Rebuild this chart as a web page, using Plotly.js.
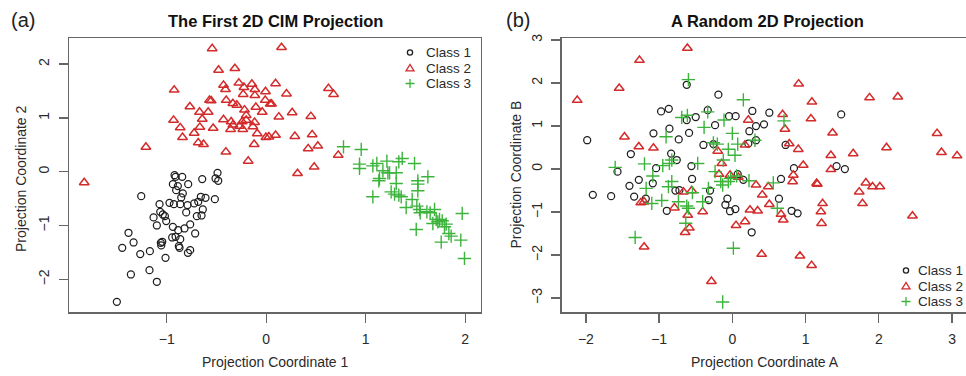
<!DOCTYPE html>
<html>
<head>
<meta charset="utf-8">
<script src="https://cdn.plot.ly/plotly-3.0.1.min.js"></script>
<style>html,body{margin:0;padding:0;background:#fff;}#chart{width:966px;height:376px;}</style>
</head>
<body>
<div id="chart"></div>
<script>
// ---------- Data: panel (a) The First 2D CIM Projection ----------
const cimClass1X = [-0.921,-0.911,-0.844,-0.489,-0.509,-0.482,-0.643,-0.938,-0.888,-0.905,-0.784,-0.838,-0.854,-1.256,-1.072,-0.972,-0.928,-0.864,-0.791,-0.724,-0.683,-0.657,-0.610,-0.516,-0.637,-1.065,-1.039,-1.018,-1.132,-1.005,-0.804,-0.697,-0.650,-1.099,-0.938,-0.884,-0.821,-0.764,-1.384,-1.333,-1.447,-1.266,-1.169,-1.059,-1.045,-1.055,-0.945,-0.911,-0.864,-0.878,-0.871,-0.787,-0.764,-1.012,-1.173,-1.360,-1.099,-1.501,-0.714];
const cimClass1Y = [-0.062,-0.093,-0.093,-0.019,-0.124,-0.167,-0.136,-0.229,-0.266,-0.341,-0.229,-0.402,-0.477,-0.452,-0.601,-0.576,-0.601,-0.601,-0.619,-0.588,-0.557,-0.464,-0.483,-0.508,-0.700,-0.743,-0.793,-0.824,-0.848,-0.916,-0.755,-0.824,-0.811,-0.997,-1.022,-1.084,-1.053,-0.978,-1.133,-1.313,-1.412,-1.529,-1.474,-1.319,-1.300,-1.368,-1.220,-1.207,-1.251,-1.381,-1.412,-1.505,-1.455,-1.598,-1.827,-1.907,-2.043,-2.415,-1.146];

const cimClass2X = [-0.543,0.154,-0.479,-0.315,-0.925,-0.429,-0.409,-0.275,-0.144,-0.224,-0.114,-0.007,0.094,0.204,0.626,0.677,-0.231,-0.114,-0.570,-0.553,-0.402,-0.335,-0.295,-0.010,0.040,0.054,-0.767,-0.670,-0.583,-0.218,-0.104,-0.201,-0.040,0.261,0.127,0.449,-0.931,-0.643,-0.429,-0.352,-0.201,-0.117,-0.864,-0.667,-0.533,-0.335,-0.268,-0.134,-0.358,-0.235,-0.724,-0.841,-0.090,-0.003,0.027,0.094,0.288,0.462,-0.683,-0.630,-0.121,-1.209,0.422,0.519,-0.405,-0.181,0.724,0.482,0.315,-1.829,-0.241];
const cimClass2Y = [2.29,2.31,1.89,1.92,1.52,1.61,1.53,1.65,1.63,1.57,1.53,1.49,1.64,1.45,1.55,1.44,1.44,1.42,1.33,1.32,1.33,1.27,1.24,1.33,1.26,1.26,1.21,1.11,1.11,1.15,1.20,1.05,1.11,1.10,1.02,1.03,0.96,0.98,0.97,0.93,0.96,0.92,0.82,0.83,0.81,0.87,0.85,0.84,0.79,0.79,0.72,0.64,0.71,0.64,0.65,0.68,0.66,0.69,0.54,0.51,0.51,0.46,0.43,0.48,0.37,0.20,0.31,0.09,-0.03,-0.20,0.93];

const cimClass3X = [0.777,0.955,0.938,0.938,1.072,1.112,1.213,1.333,1.367,1.491,1.173,1.223,1.307,1.139,1.132,1.625,1.524,1.524,1.307,1.524,1.256,1.290,1.333,1.357,1.072,1.467,1.407,1.514,1.541,1.548,1.615,1.648,1.692,1.709,1.742,1.769,1.725,1.675,1.792,1.836,1.859,1.970,1.508,1.759,1.956,1.993,1.240,1.809];
const cimClass3Y = [0.464,0.415,0.142,0.062,0.111,0.155,0.198,0.186,0.248,0.155,0.019,-0.019,-0.019,-0.124,-0.167,-0.093,-0.167,-0.229,-0.217,-0.353,-0.372,-0.415,-0.433,-0.464,-0.464,-0.514,-0.663,-0.638,-0.700,-0.762,-0.743,-0.762,-0.700,-0.885,-0.885,-0.910,-0.929,-0.960,-1.022,-1.146,-1.195,-0.774,-1.071,-1.307,-1.269,-1.610,-0.019,-0.972];

// ---------- Data: panel (b) A Random 2D Projection ----------
const rndClass1X = [-0.623,-0.191,-1.982,-0.973,-0.868,-0.336,-0.623,-0.500,-0.045,0.045,0.273,0.505,-0.236,0.323,0.232,0.432,-1.077,-0.859,-0.591,-0.732,-0.395,-0.259,0.218,0.323,0.727,1.486,-1.386,-0.836,-0.759,-1.041,-0.559,-1.568,0.841,1.423,1.536,-1.086,-1.277,-1.405,-1.905,-1.655,-1.341,-1.182,-0.895,-0.777,-0.723,-0.550,-0.305,-0.323,-0.068,-0.095,-0.032,0.041,0.073,0.150,0.264,0.664,0.636,0.809,0.891];
const rndClass1Y = [1.96,1.73,0.67,1.34,1.40,1.37,1.14,1.21,1.23,1.23,1.35,1.31,1.02,1.00,0.88,1.04,0.83,0.94,0.84,0.69,0.56,0.58,0.59,0.67,0.56,1.27,0.35,0.36,0.21,0.02,0.07,-0.06,0.02,0.07,0.00,-0.33,-0.25,-0.39,-0.60,-0.63,-0.64,-0.69,-0.97,-0.50,-0.49,-0.23,-0.50,-0.72,-0.69,-0.83,-0.98,-0.93,-0.12,-0.25,-1.47,-0.23,-0.69,-0.97,-1.03];

const rndClass2X = [-0.614,-1.268,-1.545,-2.118,0.905,1.086,1.873,2.259,-1.473,-1.277,-1.077,2.795,2.855,3.068,2.105,1.368,1.073,0.686,0.718,0.777,0.900,1.345,1.650,0.968,0.832,1.345,0.823,0.323,0.491,1.150,1.160,1.732,1.823,1.914,2.014,1.777,0.409,0.505,0.345,1.232,1.209,1.218,0.664,0.695,0.241,2.459,0.400,0.923,1.082,-0.145,-0.182,-0.032,0.082,-0.668,-0.555,-1.250,-1.205,-0.791,-0.609,-0.405,-0.586,-0.645,-1.205,-0.286,0.050,0.173,0.218,0.173,-0.200];
const rndClass2Y = [2.81,2.53,1.88,1.60,1.98,1.56,1.66,1.68,0.75,0.52,0.49,0.83,0.39,0.31,0.50,0.84,1.17,1.27,0.93,0.59,0.46,0.32,0.36,0.09,-0.14,-0.01,-0.29,-0.37,-0.41,-0.33,-0.35,-0.53,-0.32,-0.41,-0.41,-0.80,-0.60,-0.82,-0.97,-0.80,-0.99,-1.26,-1.05,-1.18,-0.95,-1.09,-1.98,-2.02,-2.24,0.13,-0.12,-0.14,-0.19,-0.53,-0.50,-0.78,-0.76,-0.90,-1.07,-0.99,-1.37,-1.47,-1.81,-2.61,-1.31,-1.22,1.14,0.56,0.42];

const rndClass3X = [-0.600,0.150,-0.691,-0.614,-0.336,-0.386,-0.114,0.705,-0.905,0.000,-0.259,-0.205,-0.055,0.073,0.036,0.309,-0.123,-0.827,-0.859,-0.950,-1.200,-0.473,-1.600,-1.086,-0.827,-0.873,-1.177,-0.545,-0.327,-0.236,-0.159,-0.132,-0.055,-0.023,0.059,0.227,0.559,-0.964,-1.100,-0.736,-0.623,-0.600,-0.405,-0.636,0.614,0.014,-1.327,-0.132];
const rndClass3Y = [2.08,1.61,1.20,1.25,1.33,0.97,1.14,1.12,0.75,0.83,0.61,0.58,0.46,0.58,0.32,0.67,0.21,0.21,0.13,0.08,0.12,0.13,0.04,-0.16,-0.29,-0.41,-0.45,-0.55,-0.45,-0.06,-0.29,-0.37,-0.29,-0.22,-0.16,-0.27,-0.32,-0.73,-0.80,-0.76,-0.86,-0.91,-0.76,-1.26,-0.91,-1.84,-1.59,-3.09];

const classNames = ["Class 1", "Class 2", "Class 3"];
const xTicksA = [-1, 0, 1, 2];
const yTicksA = [-2, -1, 0, 1, 2];
const xTicksB = [-2, -1, 0, 1, 2, 3];
const yTicksB = [-3, -2, -1, 0, 1, 2, 3];

// ---------- Styles ----------
const W = 966, H = 376;
const FONT = "Liberation Sans, Arial, sans-serif";
const COL1 = "#1e1e1e", COL2 = "#d32b2b", COL3 = "#3cb43c";
const LINE = "#666666", TXT = "#2a2a2a";

function px(x) { return x / W; }
function py(y) { return 1 - y / H; }

const sty = [
  { symbol: "circle-open", size: 7, color: COL1, width: 1.25 },
  { symbol: "triangle-up-open", size: 8.5, color: COL2, width: 1.5 },
  { symbol: "cross-thin-open", size: 9.5, color: COL3, width: 1.4 }
];

function tr(x, y, i, xa, ya) {
  return {
    type: "scatter", mode: "markers", x: x, y: y, xaxis: xa, yaxis: ya,
    name: classNames[i], showlegend: false, hoverinfo: "skip", cliponaxis: false,
    marker: { symbol: sty[i].symbol, size: sty[i].size, color: sty[i].color,
              line: { color: sty[i].color, width: sty[i].width } }
  };
}

const data = [
  tr(cimClass1X, cimClass1Y, 0, "x", "y"),
  tr(cimClass2X, cimClass2Y, 1, "x", "y"),
  tr(cimClass3X, cimClass3Y, 2, "x", "y"),
  tr(rndClass1X, rndClass1Y, 0, "x2", "y2"),
  tr(rndClass2X, rndClass2Y, 1, "x2", "y2"),
  tr(rndClass3X, rndClass3Y, 2, "x2", "y2")
];

const yDom = [py(312.3), py(38.3)];

function axisBase(extra) {
  return Object.assign({
    showgrid: false, zeroline: false, showline: true, linecolor: LINE, linewidth: 1.3,
    ticks: "outside", ticklen: 9, tickwidth: 1.3, tickcolor: LINE,
    tickfont: { family: FONT, size: 14, color: TXT }, fixedrange: true
  }, extra);
}

// ---------- Legend (keys drawn as shapes, labels as annotations) ----------
function legend(symX, textX, rowsY) {
  const shapes = [], ann = [];
  rowsY.forEach(function (ry, i) {
    const base = { xref: "paper", yref: "paper", xsizemode: "pixel", ysizemode: "pixel",
                   xanchor: px(symX), yanchor: py(ry), line: { color: sty[i].color, width: 1.3 } };
    if (i === 0) shapes.push(Object.assign({ type: "circle", x0: -2.6, x1: 2.6, y0: -2.6, y1: 2.6 }, base));
    if (i === 1) shapes.push(Object.assign({ type: "path", path: "M-4,-2.8 L4,-2.8 L0,3.6 Z" }, base));
    if (i === 2) shapes.push(Object.assign({ type: "path", path: "M-4.5,0 L4.5,0 M0,-4.5 L0,4.5" }, base));
    ann.push({ xref: "paper", yref: "paper", x: px(textX), y: py(ry), xanchor: "left", yanchor: "middle",
               text: classNames[i], showarrow: false, borderpad: 0,
               font: { family: FONT, size: 13.5, color: TXT } });
  });
  return { shapes: shapes, ann: ann };
}
const legA = legend(410, 425, [52.5, 68, 83.5]);
const legB = legend(906, 917, [270.5, 286, 301.5]);

function txt(text, x, y, size, opts) {
  return Object.assign({ xref: "paper", yref: "paper", x: px(x), y: py(y), xanchor: "center", yanchor: "middle",
    text: text, showarrow: false, font: { family: FONT, size: size, color: TXT } }, opts || {});
}

const annotations = [
  txt("(a)", 23, 20, 20, { font: { family: FONT, size: 20, color: "#222" } }),
  txt("(b)", 518, 20, 20, { font: { family: FONT, size: 20, color: "#222" } }),
  txt("<b>The First 2D CIM Projection</b>", 275, 21, 16.5, { font: { family: FONT, size: 16.5, color: "#111" } }),
  txt("<b>A Random 2D Projection</b>", 767, 21, 16.5, { font: { family: FONT, size: 16.5, color: "#111" } }),
  txt("Projection Coordinate 1", 275, 362, 14),
  txt("Projection Coordinate A", 765, 362, 14),
  txt("Projection Coordinate 2", 21, 179, 14, { textangle: -90 }),
  txt("Projection Coordinate B", 515.5, 175, 14, { textangle: -90 })
].concat(legA.ann, legB.ann);

const layout = {
  width: W, height: H,
  margin: { l: 0, r: 0, t: 0, b: 0, pad: 0 },
  paper_bgcolor: "#ffffff", plot_bgcolor: "#ffffff",
  showlegend: false,
  font: { family: FONT, color: TXT },
  xaxis: axisBase({ domain: [px(69.3), px(481)], range: [-1.979, 2.159], tickvals: xTicksA, mirror: true,
                    ticklabelstandoff: 5, anchor: "y" }),
  yaxis: axisBase({ domain: yDom, range: [-2.61, 2.48], tickvals: yTicksA, mirror: true, tickangle: -90,
                    ticklabelstandoff: 4, anchor: "x" }),
  xaxis2: axisBase({ domain: [px(561.7), 1], range: [-2.33, 3.19], tickvals: xTicksB, mirror: true,
                     ticklabelstandoff: 5, anchor: "y2" }),
  yaxis2: axisBase({ domain: yDom, range: [-3.33, 3.04], tickvals: yTicksB, mirror: false, tickangle: -90,
                     ticklabelstandoff: 4, anchor: "x2" }),
  shapes: legA.shapes.concat(legB.shapes),
  annotations: annotations
};

Plotly.newPlot("chart", data, layout, { staticPlot: true, displayModeBar: false });
</script>
</body>
</html>
